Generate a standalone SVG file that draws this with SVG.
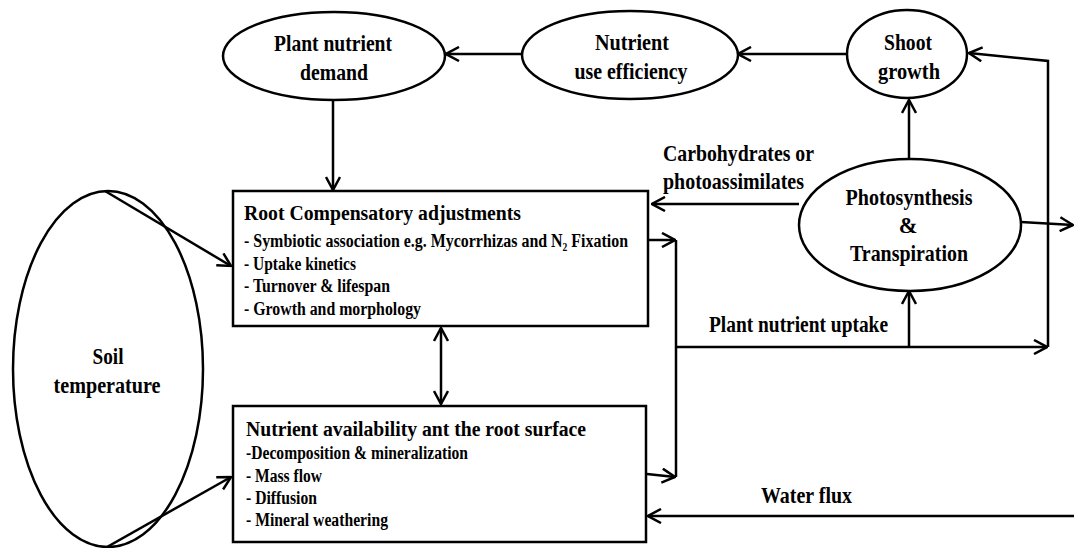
<svg xmlns="http://www.w3.org/2000/svg" width="1074" height="548" viewBox="0 0 1074 548">
<style>
.t{font-family:"Liberation Serif","Times New Roman","DejaVu Serif",serif;font-weight:bold;fill:#000}
.el{font-size:22.5px}
.ttl{font-size:20.5px}
.it{font-size:18px}
.sh{fill:#fff;stroke:#000;stroke-width:2.5}
.cn{fill:none;stroke:#000;stroke-width:2.5}
</style>
<defs>
<marker id="ah" viewBox="0 0 15 16" refX="14" refY="8" markerWidth="15" markerHeight="16" markerUnits="userSpaceOnUse" orient="auto-start-reverse">
<path d="M1,1 L14,8 L1,15" fill="none" stroke="#000" stroke-width="2.5"/>
</marker>
</defs>
<rect width="1074" height="548" fill="#fff"/>

<g id="connectors">
<path class="cn" d="M848,54 L738,54" marker-end="url(#ah)"/>
<path class="cn" d="M522,54 L446,54" marker-end="url(#ah)"/>
<path class="cn" d="M333,100 L333,190" marker-end="url(#ah)"/>
<path class="cn" d="M909,159 L909,100" marker-end="url(#ah)"/>
<path class="cn" d="M799,204 L652,204" marker-end="url(#ah)"/>
<path class="cn" d="M1021,222 L1073,225" marker-end="url(#ah)"/>
<path class="cn" d="M648,240 L675,240" marker-end="url(#ah)"/>
<path class="cn" d="M676,240 L676,477"/>
<path class="cn" d="M647,474 L675,477" marker-end="url(#ah)"/>
<path class="cn" d="M676,347 L1047,347" marker-end="url(#ah)"/>
<path class="cn" d="M909,347 L909,291" marker-end="url(#ah)"/>
<path class="cn" d="M1048,347 L1048,61 L969,53" marker-end="url(#ah)"/>
<path class="cn" d="M1074,516 L648,516" marker-end="url(#ah)"/>
<path class="cn" d="M441,328 L441,404" marker-start="url(#ah)" marker-end="url(#ah)"/>
<path class="cn" d="M105,191 L231,266" marker-end="url(#ah)"/>
<path class="cn" d="M107,547 L231,477" marker-end="url(#ah)"/>
</g>

<g id="soil-temperature">
<ellipse cx="108" cy="369" rx="95" ry="178" fill="none" stroke="#000" stroke-width="2.5"/>
<text class="t el" x="108" y="364" text-anchor="middle" textLength="31" lengthAdjust="spacingAndGlyphs">Soil</text>
<text class="t el" x="107" y="393" text-anchor="middle" textLength="107" lengthAdjust="spacingAndGlyphs">temperature</text>
</g>

<g id="plant-nutrient-demand">
<ellipse class="sh" cx="334" cy="56" rx="111" ry="44"/>
<text class="t el" x="333" y="51" text-anchor="middle" textLength="118" lengthAdjust="spacingAndGlyphs">Plant nutrient</text>
<text class="t el" x="334" y="80" text-anchor="middle" textLength="68" lengthAdjust="spacingAndGlyphs">demand</text>
</g>

<g id="nutrient-use-efficiency">
<ellipse class="sh" cx="630" cy="55" rx="108" ry="44"/>
<text class="t el" x="632" y="50" text-anchor="middle" textLength="74" lengthAdjust="spacingAndGlyphs">Nutrient</text>
<text class="t el" x="631" y="79" text-anchor="middle" textLength="113" lengthAdjust="spacingAndGlyphs">use efficiency</text>
</g>

<g id="shoot-growth">
<ellipse class="sh" cx="907" cy="54" rx="60" ry="44"/>
<text class="t el" x="908" y="50" text-anchor="middle" textLength="48" lengthAdjust="spacingAndGlyphs">Shoot</text>
<text class="t el" x="909" y="79" text-anchor="middle" textLength="62" lengthAdjust="spacingAndGlyphs">growth</text>
</g>

<g id="photosynthesis-transpiration">
<ellipse class="sh" cx="910" cy="225" rx="111" ry="66"/>
<text class="t el" x="909" y="205" text-anchor="middle" textLength="127" lengthAdjust="spacingAndGlyphs">Photosynthesis</text>
<text class="t el" x="908" y="233" text-anchor="middle">&amp;</text>
<text class="t el" x="909" y="261" text-anchor="middle" textLength="118" lengthAdjust="spacingAndGlyphs">Transpiration</text>
</g>

<g id="root-compensatory-adjustments">
<rect class="sh" x="233" y="191" width="415" height="135"/>
<text class="t ttl" x="244" y="220" textLength="277" lengthAdjust="spacingAndGlyphs">Root Compensatory adjustments</text>
<text class="t it" x="244" y="247" textLength="384" lengthAdjust="spacingAndGlyphs">- Symbiotic association e.g. Mycorrhizas and N₂ Fixation</text>
<text class="t it" x="244" y="269.5" textLength="112" lengthAdjust="spacingAndGlyphs">- Uptake kinetics</text>
<text class="t it" x="244" y="292" textLength="146" lengthAdjust="spacingAndGlyphs">- Turnover &amp; lifespan</text>
<text class="t it" x="244" y="314.5" textLength="177" lengthAdjust="spacingAndGlyphs">- Growth and morphology</text>
</g>

<g id="nutrient-availability">
<rect class="sh" x="233" y="406" width="413" height="136"/>
<text class="t ttl" x="246" y="436" textLength="340" lengthAdjust="spacingAndGlyphs">Nutrient availability ant the root surface</text>
<text class="t it" x="246" y="459" textLength="222" lengthAdjust="spacingAndGlyphs">-Decomposition &amp; mineralization</text>
<text class="t it" x="246" y="482" textLength="76" lengthAdjust="spacingAndGlyphs">- Mass flow</text>
<text class="t it" x="246" y="504" textLength="71" lengthAdjust="spacingAndGlyphs">- Diffusion</text>
<text class="t it" x="246" y="526" textLength="142" lengthAdjust="spacingAndGlyphs">- Mineral weathering</text>
</g>

<g id="edge-labels">
<text class="t el" x="663" y="161" textLength="151" lengthAdjust="spacingAndGlyphs">Carbohydrates or</text>
<text class="t el" x="663" y="189" textLength="141" lengthAdjust="spacingAndGlyphs">photoassimilates</text>
<text class="t el" x="709" y="332" textLength="179" lengthAdjust="spacingAndGlyphs">Plant nutrient uptake</text>
<text class="t el" x="761" y="503" textLength="91" lengthAdjust="spacingAndGlyphs">Water flux</text>
</g>
</svg>
